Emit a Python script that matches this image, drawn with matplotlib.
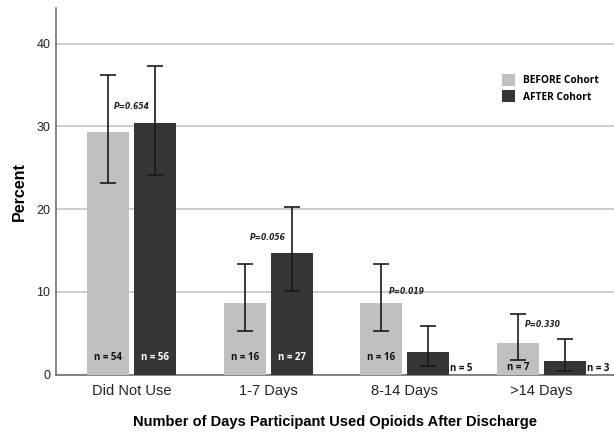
import numpy as np
import matplotlib
matplotlib.use('Agg')
import matplotlib.pyplot as plt
from matplotlib.patches import Patch

# data
categories = ['Did Not Use', '1-7 Days', '8-14 Days', '>14 Days']
before_pct = [29.3, 8.7, 8.7, 3.8]
after_pct = [30.4, 14.7, 2.7, 1.6]
before_lo = [23.1, 5.25, 5.25, 1.8]
before_hi = [36.2, 13.4, 13.4, 7.3]
after_lo = [24.1, 10.1, 1.1, 0.5]
after_hi = [37.3, 20.3, 5.85, 4.3]
before_n = [54, 16, 16, 7]
after_n = [56, 27, 5, 3]
p_values = ['P=0.654', 'P=0.056', 'P=0.019', 'P=0.330']
p_pos = [32.4, 16.6, 10.0, 6.05]

c_before = '#c0c0c0'
c_after = '#363636'

fig = plt.figure(figsize=(6.14, 4.34), dpi=100)
ax = fig.add_axes([0.0912, 0.1366, 0.909, 0.845])

x = np.arange(len(categories))
w = 0.307
off = 0.172

ax.bar(x - off, before_pct, w, color=c_before, zorder=3)
ax.bar(x + off, after_pct, w, color=c_after, zorder=3)

b_err = [np.array(before_pct) - np.array(before_lo), np.array(before_hi) - np.array(before_pct)]
a_err = [np.array(after_pct) - np.array(after_lo), np.array(after_hi) - np.array(after_pct)]
ax.errorbar(x - off, before_pct, yerr=b_err, fmt='none', ecolor='#1a1a1a',
            elinewidth=1.2, capsize=6, capthick=1.2, zorder=4)
ax.errorbar(x + off, after_pct, yerr=a_err, fmt='none', ecolor='#1a1a1a',
            elinewidth=1.2, capsize=6, capthick=1.2, zorder=4)

nfont = dict(fontsize=7, fontweight='bold', family='Open Sans')
for i in range(len(categories)):
    # n labels
    if before_pct[i] > 5:
        ax.text(x[i] - off, 2.05, f'n = {before_n[i]}', ha='center', va='center',
                color='#111111', zorder=5, **nfont)
    else:
        ax.text(x[i] - off, 0.9, f'n = {before_n[i]}', ha='center', va='center',
                color='#111111', zorder=5, **nfont)
    if after_pct[i] > 5:
        ax.text(x[i] + off, 2.05, f'n = {after_n[i]}', ha='center', va='center',
                color='white', zorder=5, **nfont)
    else:
        ax.text(x[i] + off + w / 2 + 0.005, 0.8, f'n = {after_n[i]}', ha='left',
                va='center', color='#111111', zorder=5, **nfont)

# p-values
pfont = dict(fontsize=5.5, fontweight='bold', style='italic', color='#222222', zorder=5)
ax.text(x[0], p_pos[0], p_values[0], ha='center', va='center', **pfont)
ax.text(x[1], p_pos[1], p_values[1], ha='center', va='center', **pfont)
ax.text(x[2] - 0.12, p_pos[2], p_values[2], ha='left', va='center', **pfont)
ax.text(x[3] - 0.12, p_pos[3], p_values[3], ha='left', va='center', **pfont)

ax.set_xlim(-0.552, 3.53)
ax.set_ylim(0, 44.3)
ax.set_yticks([0, 10, 20, 30, 40])
ax.set_xticks(x)
ax.set_xticklabels(categories, family='Liberation Sans', fontsize=10.5, color='#222222')
ax.tick_params(axis='y', length=0, labelsize=9, pad=4, labelcolor='#222222')
ax.tick_params(axis='x', length=0, pad=7)
for lab in ax.get_yticklabels():
    lab.set_family('Liberation Sans')

ax.grid(axis='y', color='#c8c8c8', linewidth=1.3, zorder=0)
ax.set_axisbelow(True)
for s in ['top', 'right']:
    ax.spines[s].set_visible(False)
ax.spines['left'].set_color('#666666')
ax.spines['bottom'].set_color('#666666')
ax.spines['left'].set_linewidth(1.1)
ax.spines['bottom'].set_linewidth(1.1)

ax.set_ylabel('Percent', family='Liberation Sans', fontsize=11.5, fontweight='bold', labelpad=7)
ax.set_xlabel('Number of Days Participant Used Opioids After Discharge', family='Liberation Sans',
              fontsize=10.5, fontweight='bold', labelpad=12)

handles = [Patch(facecolor=c_before, label='BEFORE Cohort'),
           Patch(facecolor=c_after, label='AFTER Cohort')]
ax.legend(handles=handles, loc='upper left', bbox_to_anchor=(0.799, 0.82), frameon=False,
          prop={'family': 'Open Sans', 'weight': 'bold', 'size': 7.3},
          borderpad=0, borderaxespad=0, handlelength=1.3, handleheight=1.4,
          handletextpad=0.8, labelspacing=0.4)

fig.savefig('out.png', dpi=100)
